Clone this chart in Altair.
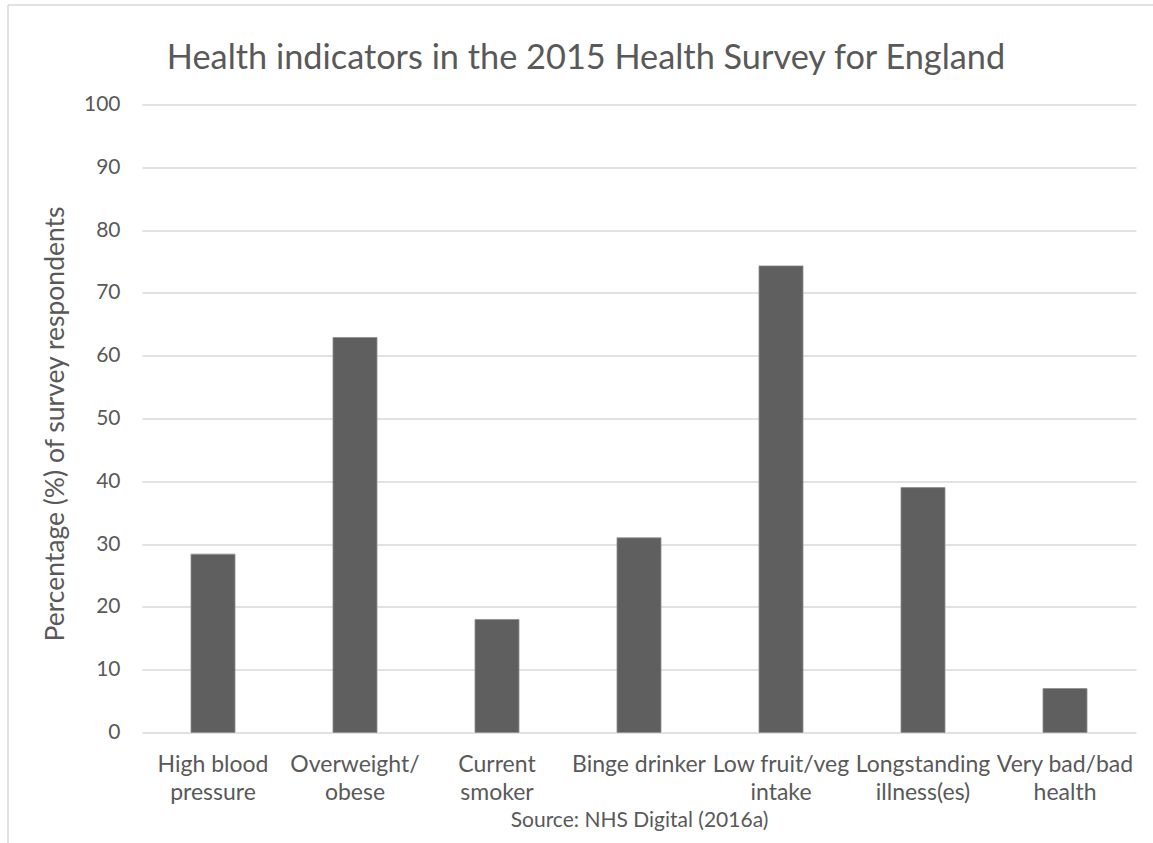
import altair as alt
import pandas as pd

categories = [
    "High blood|pressure",
    "Overweight/|obese",
    "Current|smoker",
    "Binge drinker",
    "Low fruit/veg|intake",
    "Longstanding|illness(es)",
    "Very bad/bad|health",
]
values = [28.4, 62.9, 18.0, 31.0, 74.3, 39.0, 7.0]
y_ticks = [0, 10, 20, 30, 40, 50, 60, 70, 80, 90, 100]

title_text = "Health indicators in the 2015 Health Survey for England"
y_title = "Percentage (%) of survey respondents"
source_text = "Source: NHS Digital (2016a)"

df = pd.DataFrame({"indicator": categories, "pct": values})

FONT = "Lato"
TXT = "#595959"
GRID = "#d9d9d9"

W, H = 994, 628
PL, PT = 142, 104.5

bars = alt.Chart(df).mark_bar(
    color="#5f5f5f", stroke="#8f8f8f", strokeWidth=0.8
).encode(
    x=alt.X(
        "indicator:N",
        sort=categories,
        scale=alt.Scale(paddingInner=0.69, paddingOuter=0.345),
        axis=alt.Axis(
            title=source_text,
            labelExpr="split(datum.label, '|')",
            labelAngle=0,
            labelFont=FONT,
            labelFontSize=23,
            labelColor=TXT,
            labelPadding=21,
            labelLineHeight=28,
            labelBaseline="top",
            domain=False,
            ticks=False,
            grid=False,
            titleFont=FONT,
            titleFontSize=21,
            titleFontWeight="normal",
            titleColor=TXT,
            titleX=W / 2,
            titleY=87.5,
            titleBaseline="middle",
            titleAlign="center",
        ),
    ),
    y=alt.Y(
        "pct:Q",
        scale=alt.Scale(domain=[0, 100], nice=False),
        axis=alt.Axis(
            title=y_title,
            values=y_ticks,
            grid=True,
            gridColor=GRID,
            gridWidth=1.5,
            domain=False,
            ticks=False,
            labelFont=FONT,
            labelFontSize=21,
            labelColor=TXT,
            labelPadding=22,
            titleFont=FONT,
            titleFontSize=26.5,
            titleFontWeight="normal",
            titleColor=TXT,
            titleX=-87,
            titleY=H / 2 + 5,
            titleAngle=-90,
            titleBaseline="middle",
            titleAlign="center",
        ),
    ),
)

frame_data = alt.Data(values=[{"k": 0}])
top_border = alt.Chart(frame_data).mark_rule(color=GRID, strokeWidth=1.5).encode(
    x=alt.value(8 - PL), x2=alt.value(1153 - PL), y=alt.value(5 - PT)
)
left_border = alt.Chart(frame_data).mark_rule(color=GRID, strokeWidth=1.5).encode(
    x=alt.value(8 - PL), y=alt.value(5 - PT), y2=alt.value(843 - PT)
)
title_mark = alt.Chart(alt.Data(values=[{"t": title_text}])).mark_text(
    font=FONT, fontSize=34.3, color=TXT, align="center", baseline="alphabetic"
).encode(
    text="t:N", x=alt.value(586 - PL), y=alt.value(69 - PT)
)

chart = alt.layer(bars, top_border, left_border, title_mark).properties(
    width=W,
    height=H,
    background="white",
    autosize=alt.AutoSizeParams(type="none"),
    padding={"left": PL, "top": PT, "right": 1153 - PL - W, "bottom": 843 - PT - H},
).configure_view(stroke=None)

chart.save("out.html", embed_options={"renderer": "svg", "actions": False})
